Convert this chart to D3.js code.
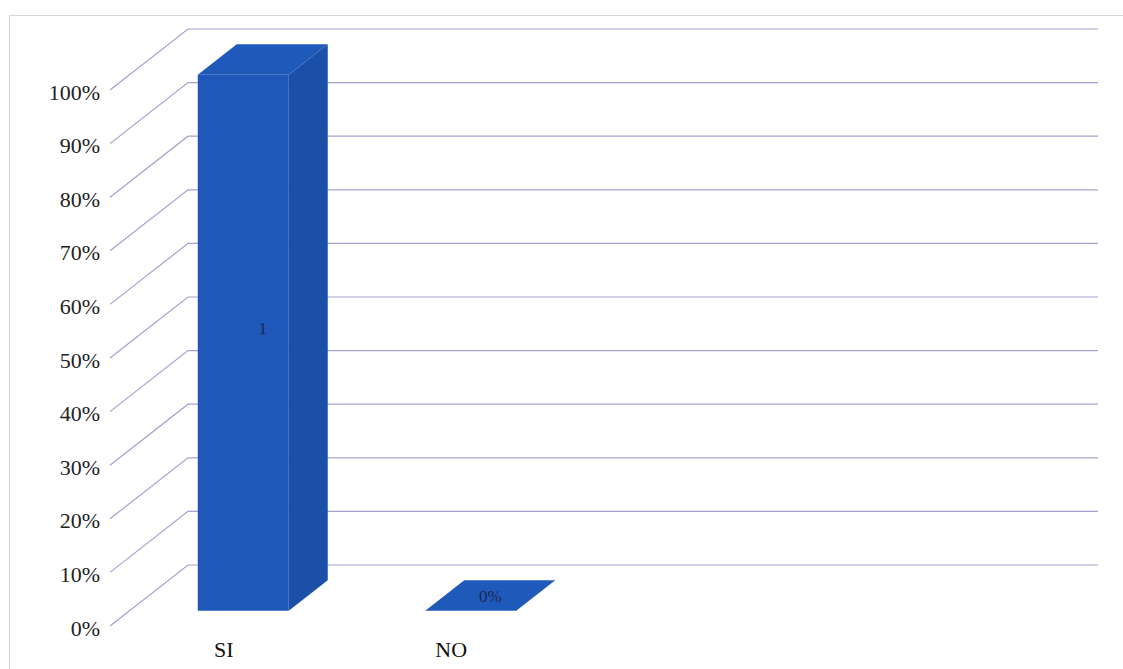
<!DOCTYPE html>
<html>
<head>
<meta charset="utf-8">
<script src="https://cdn.jsdelivr.net/npm/d3@7"></script>
<style>
  html, body { margin: 0; padding: 0; background: #ffffff; }
  svg { display: block; }
</style>
</head>
<body>
<svg id="chart" width="1123" height="669"></svg>
<script>
// ---- data ----
const categories = ["SI", "NO"];
const values = [1, 0];
const dataLabels = ["1", "0%"];
const tickValues = [0, 0.1, 0.2, 0.3, 0.4, 0.5, 0.6, 0.7, 0.8, 0.9, 1];
const tickLabels = ["0%", "10%", "20%", "30%", "40%", "50%", "60%", "70%", "80%", "90%", "100%"];
const slotCount = 4; // category slots on the axis (two left empty)

// ---- layout ----
const W = 1123, H = 669;
const frontLeft = 110, frontRight = 1020, backRight = 1098;
const depthX = 78, depthY = -61;
const barDepth0 = 0.25, barDepth1 = 0.75;

const svg = d3.select("#chart");

const y = d3.scaleLinear().domain([0, 1]).range([626, 90]);
const x = d3.scaleBand().domain(d3.range(slotCount))
  .range([frontLeft, frontRight]).paddingInner(0.6).paddingOuter(0.3);

const P = (xf, v, d) => [xf + d * depthX, y(v) + d * depthY];

// chart area border
svg.append("path")
  .attr("d", `M9.5,${H} L9.5,15.5 L${W},15.5`)
  .attr("fill", "none").attr("stroke", "#d6d6d6").attr("stroke-width", 1.2);

// gridlines (floor-to-back-wall perspective)
const grid = svg.append("g").attr("fill", "none")
  .attr("stroke", "#a2a2cf").attr("stroke-width", 1.2);
tickValues.forEach(t => {
  const a = P(frontLeft, t, 0), b = P(frontLeft, t, 1);
  grid.append("path")
    .attr("d", `M${a[0]},${a[1]} L${b[0]},${b[1]} L${backRight},${b[1]}`);
});

// y tick labels
svg.append("g").selectAll("text").data(tickValues).join("text")
  .attr("x", 100).attr("y", d => y(d) + 9.5)
  .attr("text-anchor", "end")
  .attr("font-family", "'Liberation Serif', 'Times New Roman', serif")
  .attr("font-size", 22).attr("fill", "#222")
  .text((d, i) => tickLabels[i]);

// bars
const bars = svg.append("g");
const poly = pts => "M" + pts.map(p => p.join(",")).join("L") + "Z";
categories.forEach((c, i) => {
  const v = values[i];
  const x0 = x(i), x1 = x(i) + x.bandwidth();
  // front
  bars.append("path").attr("fill", "#1f58b8")
    .attr("d", poly([P(x0, 0, barDepth0), P(x1, 0, barDepth0), P(x1, v, barDepth0), P(x0, v, barDepth0)]));
  // side
  bars.append("path").attr("fill", "#1b50a9")
    .attr("d", poly([P(x1, 0, barDepth0), P(x1, 0, barDepth1), P(x1, v, barDepth1), P(x1, v, barDepth0)]));
  // top
  bars.append("path").attr("fill", "#1f5aba")
    .attr("d", poly([P(x0, v, barDepth0), P(x1, v, barDepth0), P(x1, v, barDepth1), P(x0, v, barDepth1)]));
});

// data labels
svg.append("g").selectAll("text").data(categories).join("text")
  .attr("x", (d, i) => x(i) + x.bandwidth() / 2 + 0.5 * depthX)
  .attr("y", (d, i) => y(values[i] / 2) + 0.5 * depthY + 6)
  .attr("text-anchor", "middle")
  .attr("font-family", "'Liberation Serif', 'Times New Roman', serif")
  .attr("font-size", 17).attr("fill", "#1a2650")
  .text((d, i) => dataLabels[i]);

// category labels
svg.append("g").selectAll("text").data(categories).join("text")
  .attr("x", (d, i) => x(i) + x.bandwidth() / 2)
  .attr("y", 657)
  .attr("text-anchor", "middle")
  .attr("font-family", "'Liberation Serif', 'Times New Roman', serif")
  .attr("font-size", 22).attr("fill", "#111")
  .text(d => d);
</script>
</body>
</html>
